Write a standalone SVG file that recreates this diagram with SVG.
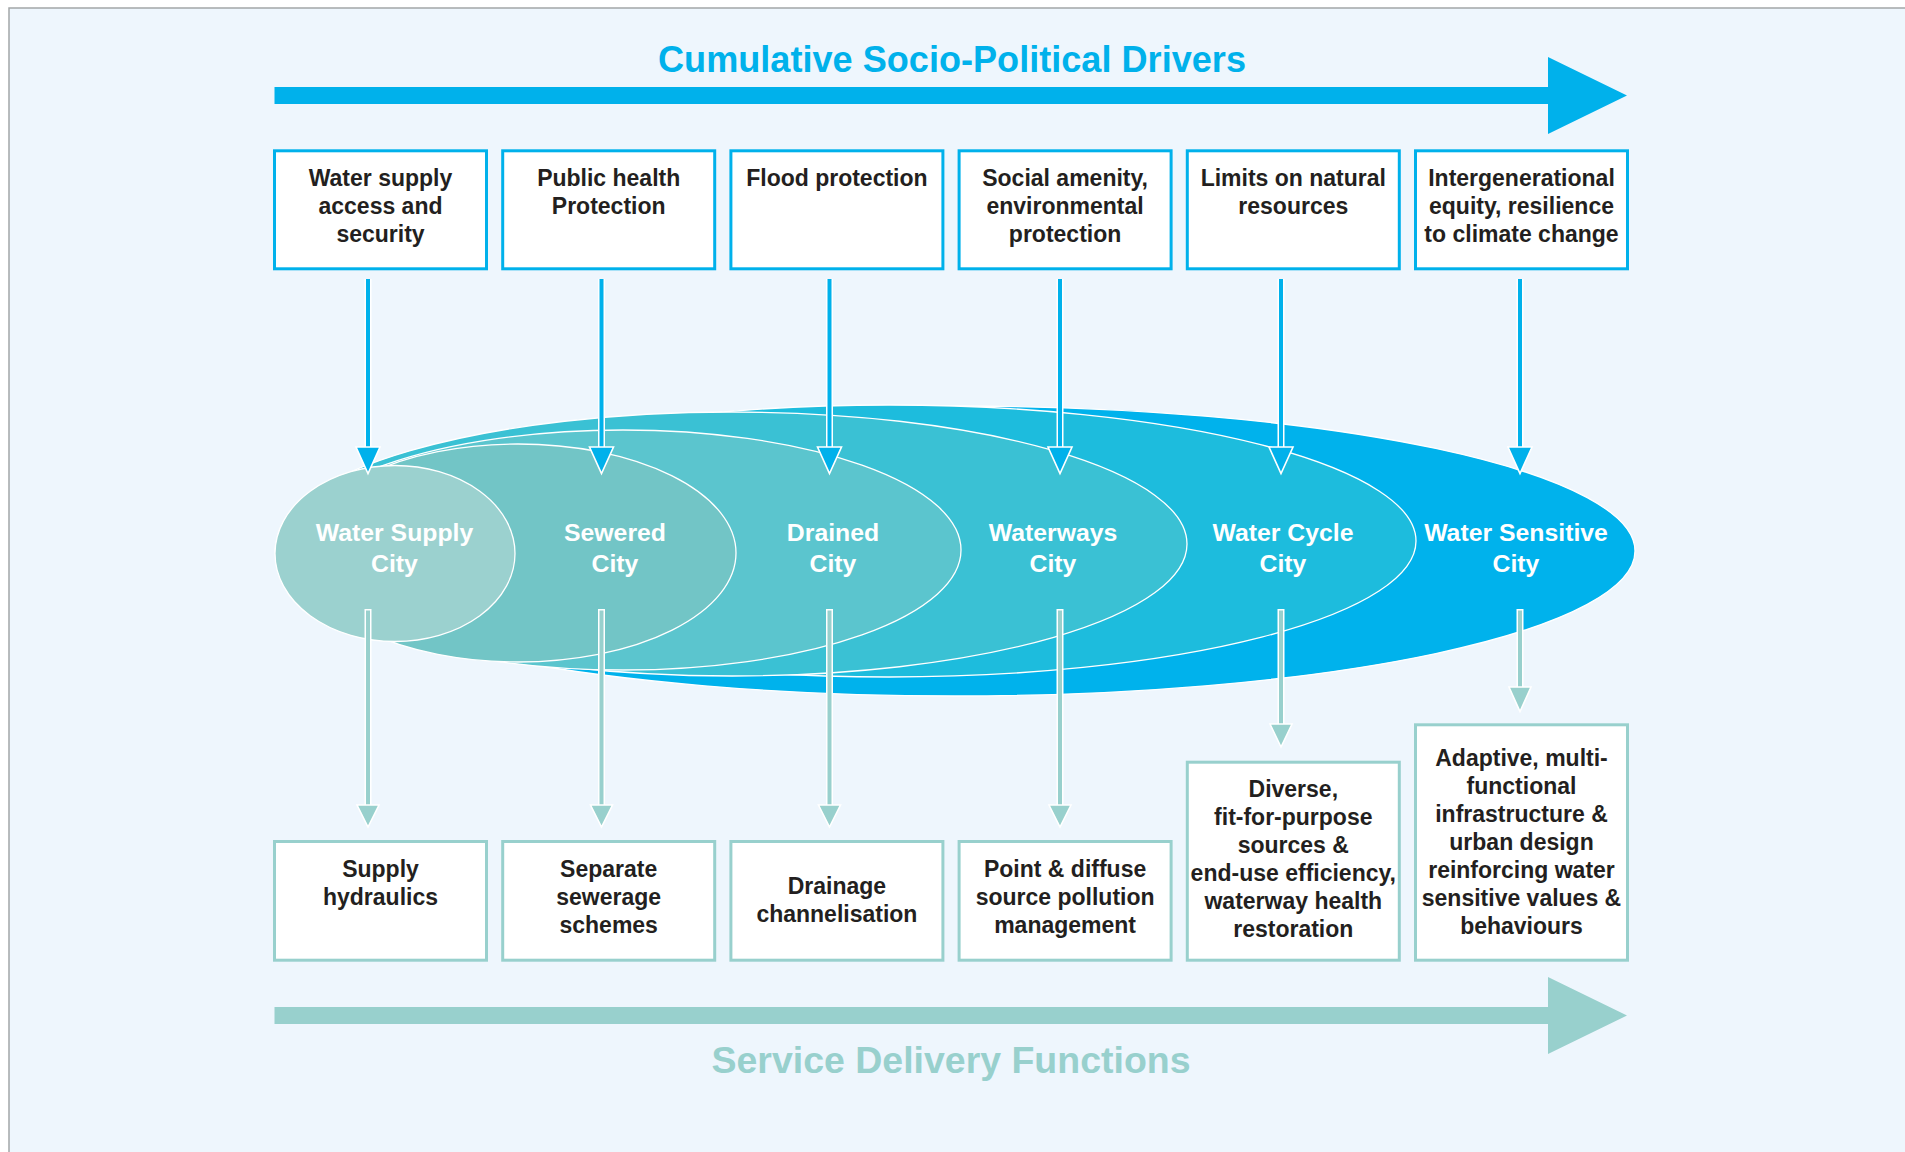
<svg xmlns="http://www.w3.org/2000/svg" width="1905" height="1152" viewBox="0 0 1905 1152">
<defs>
<style>
.bg{fill:#EEF6FD;stroke:#A3A6A8;stroke-width:1.5}
.tbox{fill:#FFFFFF;stroke:#00B1EB;stroke-width:3}
.bbox{fill:#FFFFFF;stroke:#98D0CD;stroke-width:3}
.btxt{font-family:"Liberation Sans",Arial,sans-serif;font-weight:700;font-size:23px;fill:#231F20;text-anchor:middle}
.ctxt{font-family:"Liberation Sans",Arial,sans-serif;font-weight:700;font-size:24.8px;fill:#FFFFFF;text-anchor:middle}
.title{font-family:"Liberation Sans",Arial,sans-serif;font-weight:700;text-anchor:middle}
.ell{stroke:#FFFFFF;stroke-width:1.3}
.halo{stroke:#FFFFFF;stroke-width:7;fill:none}
.cyan{stroke:#00B1EB;stroke-width:4;fill:none}
.teal{stroke:#98D0CD;stroke-width:4;fill:none}
.hcyan{fill:#00B1EB;stroke:#FFFFFF;stroke-width:1.6;stroke-linejoin:miter}
.hteal{fill:#98D0CD;stroke:#FFFFFF;stroke-width:1.6;stroke-linejoin:miter}
</style>
</defs>
<rect class="bg" x="9" y="8" width="1910" height="1160"/>

<g id="drivers-arrow">
<path d="M274.5,87 H1548 V57 L1627,95.5 L1548,134 V104 H274.5 Z" fill="#00B1EB"/>
<text class="title" x="952" y="72" font-size="36" fill="#00B1EB" textLength="588" lengthAdjust="spacingAndGlyphs">Cumulative Socio-Political Drivers</text>
</g>

<g id="service-arrow">
<path d="M274.5,1007 H1548 V977 L1627,1015.5 L1548,1054 V1024 H274.5 Z" fill="#98D0CD"/>
<text class="title" x="951" y="1073" font-size="37" fill="#98D0CD" textLength="479" lengthAdjust="spacingAndGlyphs">Service Delivery Functions</text>
</g>

<g id="driver-1"><rect class="tbox" x="274.5" y="150.8" width="212" height="118"/>
<text class="btxt" x="380.5" y="186">Water supply</text><text class="btxt" x="380.5" y="214">access and</text><text class="btxt" x="380.5" y="242">security</text></g>
<g id="driver-2"><rect class="tbox" x="502.7" y="150.8" width="212" height="118"/>
<text class="btxt" x="608.7" y="186">Public health</text><text class="btxt" x="608.7" y="214">Protection</text></g>
<g id="driver-3"><rect class="tbox" x="730.9" y="150.8" width="212" height="118"/>
<text class="btxt" x="836.9" y="186">Flood protection</text></g>
<g id="driver-4"><rect class="tbox" x="959.1" y="150.8" width="212" height="118"/>
<text class="btxt" x="1065.1" y="186">Social amenity,</text><text class="btxt" x="1065.1" y="214">environmental</text><text class="btxt" x="1065.1" y="242">protection</text></g>
<g id="driver-5"><rect class="tbox" x="1187.3" y="150.8" width="212" height="118"/>
<text class="btxt" x="1293.3" y="186">Limits on natural</text><text class="btxt" x="1293.3" y="214">resources</text></g>
<g id="driver-6"><rect class="tbox" x="1415.5" y="150.8" width="212" height="118"/>
<text class="btxt" x="1521.5" y="186">Intergenerational</text><text class="btxt" x="1521.5" y="214">equity, resilience</text><text class="btxt" x="1521.5" y="242">to climate change</text></g>

<g id="city-6"><ellipse class="ell" cx="955" cy="551" rx="680" ry="145" fill="#00B2EC"/>
<text class="ctxt" x="1516" y="541">Water Sensitive</text><text class="ctxt" x="1516" y="572">City</text></g>
<g id="city-5"><ellipse class="ell" cx="889" cy="541" rx="527" ry="136" fill="#1DBCDD"/>
<text class="ctxt" x="1283" y="541">Water Cycle</text><text class="ctxt" x="1283" y="572">City</text></g>
<g id="city-4"><ellipse class="ell" cx="732" cy="544" rx="455" ry="132" fill="#3AC1D4"/>
<text class="ctxt" x="1053" y="541">Waterways</text><text class="ctxt" x="1053" y="572">City</text></g>
<g id="city-3"><ellipse class="ell" cx="623" cy="550" rx="338" ry="120" fill="#5BC5CE"/>
<text class="ctxt" x="833" y="541">Drained</text><text class="ctxt" x="833" y="572">City</text></g>
<g id="city-2"><ellipse class="ell" cx="518" cy="553" rx="218" ry="109" fill="#72C5C6"/>
<text class="ctxt" x="615" y="541">Sewered</text><text class="ctxt" x="615" y="572">City</text></g>
<g id="city-1"><ellipse class="ell" cx="395" cy="553.5" rx="120" ry="88" fill="#9BD1CF"/>
<text class="ctxt" x="394.5" y="541">Water Supply</text><text class="ctxt" x="394.5" y="572">City</text></g>

<g id="service-1"><rect class="bbox" x="274.5" y="841.5" width="212" height="118.7"/>
<text class="btxt" x="380.5" y="877">Supply</text><text class="btxt" x="380.5" y="905">hydraulics</text></g>
<g id="service-2"><rect class="bbox" x="502.7" y="841.5" width="212" height="118.7"/>
<text class="btxt" x="608.7" y="877">Separate</text><text class="btxt" x="608.7" y="905">sewerage</text><text class="btxt" x="608.7" y="933">schemes</text></g>
<g id="service-3"><rect class="bbox" x="730.9" y="841.5" width="212" height="118.7"/>
<text class="btxt" x="836.9" y="893.5">Drainage</text><text class="btxt" x="836.9" y="921.5">channelisation</text></g>
<g id="service-4"><rect class="bbox" x="959.1" y="841.5" width="212" height="118.7"/>
<text class="btxt" x="1065.1" y="877">Point &amp; diffuse</text><text class="btxt" x="1065.1" y="905">source pollution</text><text class="btxt" x="1065.1" y="933">management</text></g>
<g id="service-5"><rect class="bbox" x="1187.3" y="762.2" width="212" height="198"/>
<text class="btxt" x="1293.3" y="796.5">Diverse,</text><text class="btxt" x="1293.3" y="824.5">fit-for-purpose</text><text class="btxt" x="1293.3" y="852.5">sources &amp;</text><text class="btxt" x="1293.3" y="880.5">end-use efficiency,</text><text class="btxt" x="1293.3" y="908.5">waterway health</text><text class="btxt" x="1293.3" y="936.5">restoration</text></g>
<g id="service-6"><rect class="bbox" x="1415.5" y="724.8" width="212" height="235.4"/>
<text class="btxt" x="1521.5" y="766">Adaptive, multi-</text><text class="btxt" x="1521.5" y="794">functional</text><text class="btxt" x="1521.5" y="822">infrastructure &amp;</text><text class="btxt" x="1521.5" y="850">urban design</text><text class="btxt" x="1521.5" y="878">reinforcing water</text><text class="btxt" x="1521.5" y="906">sensitive values &amp;</text><text class="btxt" x="1521.5" y="934">behaviours</text></g>

<g id="connectors">
<path class="halo" d="M368,279V447 M601.5,279V447 M829.5,279V447 M1060,279V447 M1281,279V447 M1520,279V447"/>
<path class="cyan" d="M368,279V448 M601.5,279V448 M829.5,279V448 M1060,279V448 M1281,279V448 M1520,279V448"/>
<polygon class="hcyan" points="356,447 380,447 368,473.5"/>
<polygon class="hcyan" points="589.5,447 613.5,447 601.5,473.5"/>
<polygon class="hcyan" points="817.5,447 841.5,447 829.5,473.5"/>
<polygon class="hcyan" points="1048,447 1072,447 1060,473.5"/>
<polygon class="hcyan" points="1269,447 1293,447 1281,473.5"/>
<polygon class="hcyan" points="1508,447 1532,447 1520,473.5"/>
<path class="halo" d="M368,609V805 M601.5,609V805 M829.5,609V805 M1060,609V805 M1281,609V724 M1520,609V687"/>
<path class="teal" d="M368,610.5V806 M601.5,610.5V806 M829.5,610.5V806 M1060,610.5V806 M1281,610.5V725 M1520,610.5V688"/>
<polygon class="hteal" points="357,805 379,805 368,827"/>
<polygon class="hteal" points="590.5,805 612.5,805 601.5,827"/>
<polygon class="hteal" points="818.5,805 840.5,805 829.5,827"/>
<polygon class="hteal" points="1049,805 1071,805 1060,827"/>
<polygon class="hteal" points="1270,724 1292,724 1281,747"/>
<polygon class="hteal" points="1509,687 1531,687 1520,711.5"/>
</g>
</svg>
